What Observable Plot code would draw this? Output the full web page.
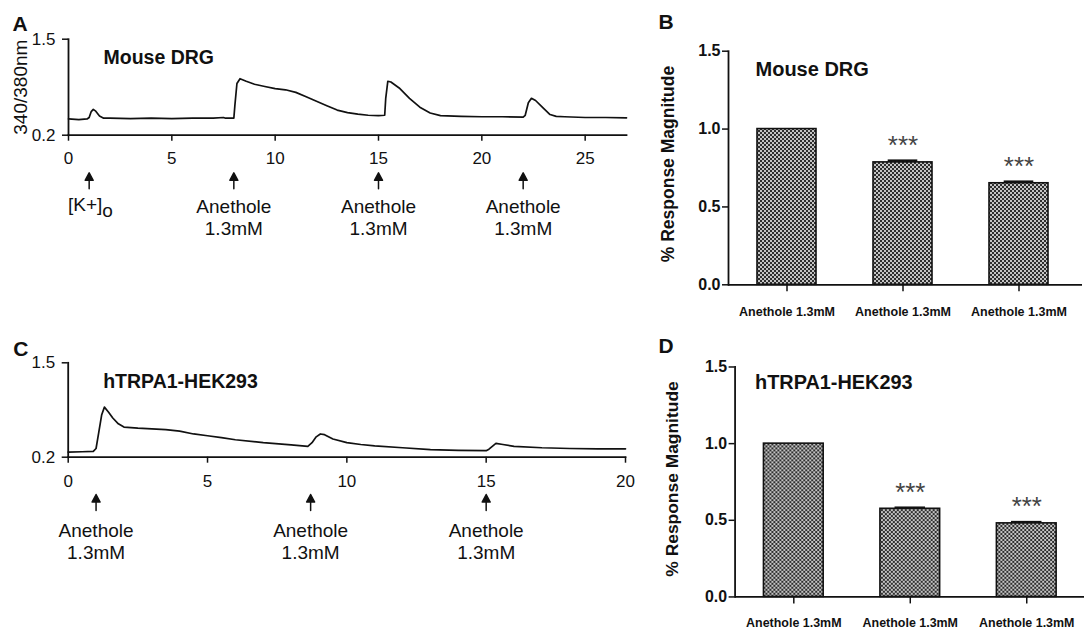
<!DOCTYPE html>
<html><head><meta charset="utf-8">
<script src="https://cdn.jsdelivr.net/npm/d3@7"></script>
<script src="https://cdn.jsdelivr.net/npm/@observablehq/plot@0.6"></script>
<style>
body{margin:0;background:#fff;}
#fig{position:relative;width:1084px;height:631px;overflow:hidden;background:#fff;}
.panel{position:absolute;}
</style></head><body>
<svg width="0" height="0" style="position:absolute"><defs>
<pattern id="checker" width="4" height="4" patternUnits="userSpaceOnUse">
<rect width="4" height="4" fill="#c4c4c4"/><rect width="2" height="2" fill="#2e2e2e"/><rect x="2" y="2" width="2" height="2" fill="#2e2e2e"/>
</pattern></defs></svg>
<div id="fig"></div>
<script>
// ---- Panel A: Mouse DRG trace ----
const timeA = [0,0.5,0.9,1.0,1.1,1.2,1.3,1.5,1.7,2,3,4,5,6,7,7.5,7.6,8.0,8.05,8.15,8.3,8.6,9.0,9.5,10,10.5,11,11.5,12,12.5,13,13.5,14,14.5,15,15.3,15.35,15.45,15.6,16,16.5,17,17.5,18,19,20,21,22,22.1,22.25,22.4,22.6,23,23.3,23.6,24,25,26,27];
const ratioA = [0.42,0.41,0.42,0.44,0.52,0.55,0.53,0.46,0.43,0.43,0.425,0.43,0.425,0.43,0.43,0.44,0.43,0.43,0.6,0.9,0.965,0.93,0.89,0.86,0.83,0.815,0.78,0.72,0.66,0.60,0.54,0.505,0.485,0.47,0.465,0.47,0.7,0.93,0.92,0.84,0.70,0.58,0.50,0.465,0.455,0.45,0.45,0.445,0.47,0.64,0.70,0.67,0.56,0.48,0.455,0.45,0.44,0.44,0.435];
const xTicksA = [0,5,10,15,20,25];
const eventTimeA = [1, 8, 15, 22];
const eventLabelA = ["[K+]", "Anethole\n1.3mM", "Anethole\n1.3mM", "Anethole\n1.3mM"];
const subscriptA = ["o"];

// ---- Panel C: hTRPA1-HEK293 trace ----
const timeC = [0,0.5,0.9,1.0,1.1,1.2,1.3,1.45,1.6,1.8,2.0,2.5,3,3.5,4,4.5,5,5.5,6,7,8,8.6,8.75,8.9,9.05,9.2,9.5,10,10.5,11,12,13,14,15,15.1,15.35,15.6,16,17,18,19,20];
const ratioC = [0.27,0.275,0.28,0.32,0.55,0.78,0.89,0.82,0.74,0.66,0.615,0.60,0.59,0.58,0.56,0.52,0.495,0.47,0.44,0.40,0.37,0.35,0.40,0.48,0.52,0.51,0.45,0.40,0.375,0.355,0.33,0.305,0.295,0.29,0.31,0.39,0.375,0.35,0.33,0.32,0.315,0.315];
const xTicksC = [0,5,10,15,20];
const eventTimeC = [1, 8.7, 15];
const eventLabelC = ["Anethole\n1.3mM", "Anethole\n1.3mM", "Anethole\n1.3mM"];

const yTicksTrace = [0.2, 1.5];

// ---- Panels B and D: bars ----
const barLabels = ["Anethole 1.3mM", "Anethole 1.3mM", "Anethole 1.3mM"];
const valuesB = [1.0, 0.786, 0.652];
const semB = [0, 0.016, 0.015];
const valuesD = [1.0, 0.575, 0.48];
const semD = [0, 0.012, 0.013];
const starLabels = ["", "***", "***"];
const yTicksBar = [0, 0.5, 1.0, 1.5];

const FONT = "'Liberation Sans', Arial, Helvetica, sans-serif";
const fig = document.getElementById("fig");
function place(node, left, top) {
  const d = document.createElement("div");
  d.className = "panel"; d.style.left = left + "px"; d.style.top = top + "px";
  d.appendChild(node); fig.appendChild(d);
}

const arrowShape = {
  draw(context, l) {
    context.moveTo(0, 0);
    context.lineTo(0, -l + 5);
    context.moveTo(-4, -l + 7.5);
    context.lineTo(0, -l);
    context.lineTo(4, -l + 7.5);
    context.closePath();
  }
};

function tracePlot(o) {
  const data = o.time.map((t, i) => ({t, v: o.ratio[i]}));
  const events = o.events.map((t, i) => ({t, label: o.labels[i]}));
  const special = events.filter(d => d.label.startsWith("[K+]"));
  const normal = events.filter(d => !d.label.startsWith("[K+]"));
  const marks = [
    Plot.axisX({ticks: o.xTicks, tickSize: 6, tickPadding: o.tickPad, fontSize: 17, strokeWidth: 1.5, label: null}),
    Plot.axisY({ticks: yTicksTrace, tickFormat: d3.format(".1f"), tickSize: 6, tickPadding: 7, fontSize: 17, strokeWidth: 1.5, label: null}),
    Plot.frame({anchor: "left", strokeWidth: 1.8}),
    Plot.frame({anchor: "bottom", strokeWidth: 1.8}),
    Plot.line(data, {x: "t", y: "v", stroke: "#111", strokeWidth: 1.7}),
    Plot.vector(events, {x: "t", frameAnchor: "bottom", length: 16, anchor: "start", shape: arrowShape, dy: o.arrowDy, stroke: "#111", fill: "#111", strokeWidth: 1.5}),
    Plot.text(normal, {x: "t", frameAnchor: "bottom", text: "label", lineAnchor: "top", lineHeight: 1.15, dy: o.labelDy, fontSize: 19, fill: "#111"}),
    Plot.text(special, {x: "t", frameAnchor: "bottom", text: "label", lineAnchor: "top", dy: o.labelDy, dx: -4, fontSize: 19, fill: "#111"}),
    Plot.text([o.title], {frameAnchor: "top-left", dx: o.titleDx, dy: o.titleDy, textAnchor: "start", fontWeight: "bold", fontSize: 19.5, fill: "#111"}),
    Plot.text([o.letter], {frameAnchor: "top-left", dx: o.letterDx, dy: o.letterDy, textAnchor: "start", lineAnchor: "bottom", fontWeight: "bold", fontSize: 21, fill: "#111"})
  ];
  if (special.length) marks.push(
    Plot.text(subscriptA, {x: () => special[0].t, frameAnchor: "bottom", dx: 13, dy: o.labelDy + 6, lineAnchor: "top", textAnchor: "start", fontSize: 19, fill: "#111"})
  );
  if (o.ylabel) marks.push(Plot.text([o.ylabel], {frameAnchor: "left", dx: -48, rotate: -90, textAnchor: "middle", lineAnchor: "middle", fontSize: 19, fill: "#111"}));
  return Plot.plot({
    width: o.width, height: o.height,
    marginLeft: o.ml, marginRight: o.mr, marginTop: o.mt, marginBottom: o.mb,
    x: {domain: o.xDomain}, y: {domain: [0.2, 1.5]},
    style: {fontFamily: FONT, color: "#111", background: "transparent", overflow: "visible"},
    marks
  });
}

// Panel A
place(tracePlot({
  time: timeA, ratio: ratioA, xTicks: xTicksA, xDomain: [0, 27],
  events: eventTimeA, labels: eventLabelA,
  width: 640, height: 310, ml: 68, mr: 14, mt: 38.7, mb: 175.3,
  tickPad: 11, arrowDy: 53.6, labelDy: 62,
  title: "Mouse DRG", titleDx: 35, titleDy: 11.3,
  letter: "A", letterDx: -56, letterDy: -8.7,
  ylabel: "340/380nm"
}), 0, 0);

// Panel C
place(tracePlot({
  time: timeC, ratio: ratioC, xTicks: xTicksC, xDomain: [0, 20],
  events: eventTimeC, labels: eventLabelC,
  width: 640, height: 321, ml: 67.7, mr: 15, mt: 52.3, mb: 174.3,
  tickPad: 12, arrowDy: 53.3, labelDy: 64,
  title: "hTRPA1-HEK293", titleDx: 35, titleDy: 11,
  letter: "C", letterDx: -55, letterDy: -7.3
}), 0, 310);

function barPlot(o) {
  const data = o.values.map((v, i) => ({i, v, top: v + o.sem[i], star: starLabels[i]}));
  const withErr = data.filter((d, i) => o.sem[i] > 0);
  return Plot.plot({
    width: o.width, height: o.height,
    marginLeft: o.ml, marginRight: o.mr, marginTop: o.mt, marginBottom: o.mb,
    x: {domain: data.map(d => d.i), paddingInner: 0.49, paddingOuter: 0.245},
    y: {domain: [0, 1.5]},
    style: {fontFamily: FONT, color: "#111", background: "transparent", overflow: "visible"},
    marks: [
      Plot.barY(data, {x: "i", y: "v", fill: "url(#checker)", stroke: "#111", strokeWidth: 1.6}),
      Plot.barY(withErr, {x: "i", y1: "v", y2: "top", insetLeft: 14.7, insetRight: 14.7, fill: "#111"}),
      Plot.text(withErr, {x: "i", y: "top", text: "star", lineAnchor: "bottom", dy: -6, fontSize: 26, fill: "#444"}),
      Plot.axisX({tickFormat: i => barLabels[i], tickSize: 7, tickPadding: o.xPad, fontSize: 12.5, fontWeight: "bold", strokeWidth: 1.5, label: null}),
      Plot.axisY({ticks: yTicksBar, tickFormat: d3.format(".1f"), tickSize: 6, tickPadding: 2, fontSize: 16, fontWeight: "bold", strokeWidth: 1.5, label: null}),
      Plot.frame({anchor: "left", strokeWidth: 1.8}),
      Plot.ruleY([0], {strokeWidth: 1.8, insetRight: -4}),
      Plot.text(["% Response Magnitude"], {frameAnchor: "left", dx: o.ylabDx, dy: o.ylabDy, rotate: -90, textAnchor: "middle", lineAnchor: "middle", fontSize: 17.5, fontWeight: "bold", fill: "#111"}),
      Plot.text([o.title], {frameAnchor: "top-left", dx: o.titleDx, dy: o.titleDy, textAnchor: "start", fontWeight: "bold", fontSize: 20, fill: "#111"}),
      Plot.text([o.letter], {frameAnchor: "top-left", dx: o.letterDx, dy: o.letterDy, textAnchor: "start", lineAnchor: "bottom", fontWeight: "bold", fontSize: 21, fill: "#111"})
    ]
  });
}

// Panel B
place(barPlot({
  values: valuesB, sem: semB,
  width: 444, height: 320, ml: 88, mr: 6, mt: 50.7, mb: 35.7,
  xPad: 15, ylabDx: -60, ylabDy: -4,
  title: "Mouse DRG", titleDx: 27, titleDy: 11,
  letter: "B", letterDx: -70, letterDy: -22.4
}), 640, 0);

// Panel D
place(barPlot({
  values: valuesD, sem: semD,
  width: 446, height: 311, ml: 95, mr: 0, mt: 46.7, mb: 33.3,
  xPad: 14, ylabDx: -63, ylabDy: -3,
  title: "hTRPA1-HEK293", titleDx: 20, titleDy: 8.3,
  letter: "D", letterDx: -77, letterDy: -13.7
}), 640, 320);
</script>
</body></html>
